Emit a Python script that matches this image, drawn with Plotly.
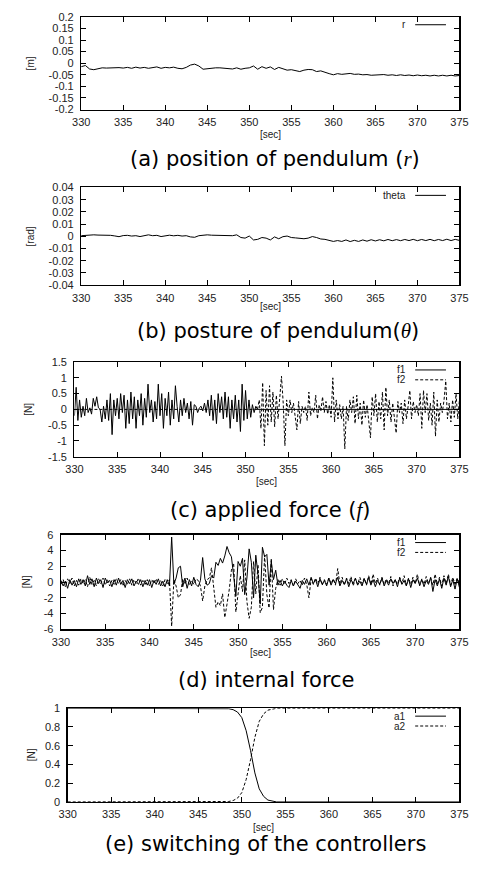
import numpy as np
import plotly.graph_objects as go

# ---------------- data ----------------
X_TICKS = [330, 335, 340, 345, 350, 355, 360, 365, 370, 375]

# (a) position r, sampled every 0.5 s from 330
R_T0, R_DT = 330.0, 0.5
R_VALS = [-0.015, -0.01, -0.025, -0.028, -0.024, -0.02, -0.021, -0.02, -0.022, -0.019,
          -0.021, -0.018, -0.022, -0.017, -0.021, -0.018, -0.022, -0.02, -0.016, -0.022,
          -0.018, -0.02, -0.017, -0.022, -0.024, -0.018, -0.008, -0.004, -0.012, -0.026,
          -0.024, -0.019, -0.02, -0.02, -0.021, -0.022, -0.025, -0.02, -0.026, -0.022,
          -0.02, -0.012, -0.026, -0.015, -0.022, -0.016, -0.027, -0.018, -0.025, -0.03,
          -0.028, -0.032, -0.036, -0.03, -0.027, -0.028, -0.036, -0.033, -0.04, -0.045,
          -0.05, -0.045, -0.048, -0.047, -0.044, -0.048, -0.047, -0.05, -0.049, -0.052,
          -0.05, -0.051, -0.049, -0.052, -0.05, -0.053, -0.05, -0.053, -0.051, -0.054,
          -0.051, -0.054, -0.052, -0.055, -0.052, -0.055, -0.052, -0.055, -0.052, -0.055,
          -0.053]

# (b) posture theta, every 0.5 s from 330
TH_T0, TH_DT = 330.0, 0.5
TH_VALS = [0.0005, 0.0008, 0.001, 0.0012, 0.001, 0.0011, 0.0013, 0.0008, 0.0003, -0.0003,
           0.0006, 0.0008, 0.0002, 0.0005, -0.0002, 0.0008, 0.0012, 0.0005, 0.0008, -0.0002,
           0.0005, 0.0009, 0.0004, 0.0008, 0.0002, 0.0005, -0.0005, -0.0008, 0.0005, 0.001,
           0.0012, 0.0009, 0.0008, 0.001, 0.0007, 0.0008, 0.0005, 0.0012, -0.001, -0.0015,
           0.0002, -0.003, -0.0025, -0.001, -0.0015, -0.003, -0.0005, -0.002, -0.0003, 0.0002,
           -0.001, -0.0013, -0.0018, -0.002, -0.0015, -0.0002, -0.001, -0.0022, -0.0025, -0.0032,
           -0.0042, -0.0035, -0.0042, -0.003, -0.0043, -0.0033, -0.0042, -0.003, -0.004, -0.0028,
           -0.0038, -0.0028, -0.0037, -0.0026, -0.0036, -0.0027, -0.0036, -0.0026, -0.0035, -0.0025,
           -0.0036, -0.0026, -0.0035, -0.0025, -0.0036, -0.0026, -0.0035, -0.0024, -0.0035, -0.0025,
           -0.0034]

# (c) applied force, every 0.2 s
F1C_T0, F1C_DT = 330.0, 0.2
F1C_VALS = [-0.2, 0.7, -0.35, 0.3, -0.25, 0.1, -0.2, 0.35, -0.1, 0.05,
            -0.15, 0.35, 0.1, 0.4, 0.05, 0.0, -0.4, 0.1, -0.3, 0.3,
            -0.35, 0.5, -0.8, 0.3, -0.2, 0.35, -0.3, 0.5, -0.1, 0.45,
            -0.6, 0.3, -0.45, 0.55, -0.3, 0.4, -0.6, 0.3, -0.2, 0.5,
            -0.5, 0.35, -0.25, 0.8, -0.1, 0.3, -0.4, 0.25, -0.3, 0.8,
            -0.2, 0.5, -0.6, 0.35, -0.2, 0.55, -0.5, 0.3, -0.3, 0.75,
            0.1, -0.4, 0.3, -0.2, 0.35, -0.1, 0.2, -0.3, 0.25, -0.5,
            0.15, 0.1, -0.1, 0.05, 0.1, -0.05, 0.2, -0.1, 0.3, -0.2,
            0.45, -0.35, 0.3, -0.45, 0.5, -0.1, 0.4, -0.3, 0.55, -0.25,
            0.4, -0.6, 0.3, -0.3, 0.45, -0.4, 0.3, -0.7, 0.8, -0.35,
            0.6, -0.3, 0.3, -0.25, 0.15, -0.1, 0.1, 0.0]
F1C_OFF_T = [351.4, 375.0]
F1C_OFF_V = [0.0, 0.0]

F2C_OFF_T = [330.0, 351.4]
F2C_OFF_V = [0.0, 0.0]
F2C_T0, F2C_DT = 351.4, 0.2
F2C_VALS = [0.0, 0.3, -0.6, 0.85, -1.15, 0.6, -0.5, 0.75, -0.4, 0.55,
            -0.55, 0.45, -0.3, 0.35, 1.05, 0.2, -1.15, 0.3, -0.2, 0.3,
            -0.1, 0.2, -0.2, -0.65, 0.25, -0.45, 0.1, -0.1, 0.1, -0.35,
            0.55, -0.2, 0.05, -0.1, 0.45, -0.3, 0.15, -0.05, 0.4, -0.1,
            0.25, -0.15, 0.15, -0.25, 1.0, -0.4, 0.3, -0.3, 0.15, -0.3,
            0.1, -1.25, 0.1, -0.35, 0.3, -0.1, 0.4, -0.45, 0.45, -0.3,
            0.2, -0.5, 0.3, -0.25, 0.15, -0.3, -0.9, 0.4, -0.2, 0.5,
            -0.4, 0.25, -0.3, 0.55, -0.65, 0.7, -0.2, 0.3, -0.4, 0.2,
            -0.2, -0.75, 0.25, -0.1, 0.2, -0.45, 0.3, -0.3, 0.1, 0.6,
            -0.3, 0.25, -0.1, 0.15, -0.2, 0.5, -0.6, 0.6, -0.1, 0.5,
            -0.35, 0.2, -0.5, 0.55, -0.85, 0.3, -0.4, 0.2, -0.1, 0.3,
            0.9, -0.3, 0.2, -0.4, 0.3, -0.25, 0.5, -0.3, 0.3]

# (d) internal force, every 0.25 s from 330
FD_T0, FD_DT = 330.0, 0.25
F1D_VALS = [0.2, -0.5, 0.1, -0.8, 0.3, -0.4, 0.2, -0.6, 0.4, -0.3,
            0.3, -0.5, 0.8, -0.3, 0.4, -0.6, 0.5, -0.2, 0.3, -0.7,
            0.5, -0.1, 0.2, -0.6, 0.3, -0.4, 0.5, -0.3, 0.2, -0.7,
            0.3, -0.2, 0.4, -0.5, 0.1, -0.3, 0.3, -0.6, 0.2, -0.4,
            0.3, -0.7, 0.2, -0.3, 0.4, -0.5, 0.1, -0.6, 0.3, -0.5,
            5.7, -0.3, 0.5, 1.8, 2.0, -0.6, 0.5, -0.8, 0.3, -0.5,
            0.6, -0.3, -0.6, 0.2, 3.1, 0.4, -0.4, -0.2, 0.8, 0.5,
            2.5, 2.1, 3.0, 2.4, 3.3, 4.5, 3.7, 3.2, 0.8, -1.8,
            2.6, 2.0, 3.0, -1.6, 0.5, 4.2, 2.5, -2.0, 3.4, 1.0,
            -2.8, 4.4, 3.2, 3.5, -0.4, 2.6, 0.3, 1.5, -0.4, 0.2,
            -0.5, 0.1, -0.4, -0.7, 0.2, -0.5, 0.1, -0.3, -0.8, 0.2,
            -0.3, 0.4, -0.4, 0.6, -0.2, 0.3, -0.6, 0.4, -0.3, 0.2,
            -0.5, 0.5, -0.4, 0.3, -0.2, 0.6, -0.5, 0.2, -0.3, 0.4,
            -0.6, 0.3, -0.2, 0.5, -0.4, 0.1, -0.5, 0.4, -0.3, 0.6,
            -0.4, 0.3, -0.6, 0.2, -0.3, 0.5, -0.5, 0.2, -0.4, 0.4,
            -0.2, 0.3, -0.6, 0.5, -0.3, 0.2, -0.5, 0.4, -0.7, 0.3,
            -0.2, 0.5, -0.4, 0.3, -0.6, 0.2, -0.3, 0.6, -1.2, 0.3,
            -0.5, 0.4, -0.8, 0.5, -0.4, 0.7, -0.6, 0.3, -0.9, 0.4,
            -0.7]
F2D_VALS = [-0.3, 0.3, -0.6, 0.4, -0.2, 0.5, -0.5, 0.2, -0.4, 0.4,
            -0.2, 0.3, -0.6, 0.6, -0.3, 0.2, -0.5, 0.4, -0.2, 0.5,
            -0.4, 0.3, -0.5, 0.2, -0.3, 0.4, -0.2, 0.3, -0.5, 0.2,
            -0.3, 0.4, -0.4, 0.3, -0.2, 0.5, -0.4, 0.2, -0.3, 0.3,
            -0.5, 0.3, -0.2, 0.4, -0.3, 0.2, -0.5, 0.3, -0.2, 0.3,
            -5.6, 0.3, -0.5, -2.0, -1.6, 0.4, -0.3, 0.5, -0.4, 0.2,
            -0.3, 0.4, 0.2, -0.5, -2.4, -0.5, 0.3, 0.5, 1.8, -0.8,
            -3.2, -2.5, -3.0, -1.5, -4.5, -2.8, -1.0, 1.5, 2.4, -3.8,
            -1.8, 0.8, -1.2, 2.8, -2.5, -4.6, -3.2, 2.6, -1.5, 2.2,
            -3.9, -3.2, 3.4, -1.6, -3.3, 3.0, -3.5, -0.8, 0.3, -0.4,
            0.4, -0.3, 0.5, -0.2, 0.3, -0.5, 0.4, -0.2, 0.2, -0.4,
            0.5, -0.3, -2.0, 0.4, -0.3, 0.5, -0.2, 0.6, -0.4, 0.3,
            -0.3, 0.5, -0.2, 0.4, -0.4, 1.7, -0.3, 0.6, -0.4, 0.5,
            -0.2, 0.7, -0.5, 0.4, -0.3, 0.6, -0.2, 0.5, -0.4, 0.8,
            -0.3, 1.0, -0.2, 0.5, -0.4, 0.6, -0.3, 0.4, -0.2, 0.7,
            -0.5, 0.3, -0.3, 0.6, -0.2, 0.8, -0.4, 0.5, -0.3, 0.6,
            -0.2, 1.0, -0.5, 0.4, -0.3, 0.7, -0.2, 0.5, -0.4, 1.0,
            -0.3, 0.6, -0.5, 0.8, -0.2, 1.0, -0.4, 0.6, -0.3, 0.5,
            -0.2]

# (e) switching weights
A_T = [330.0, 347.0, 348.0, 348.5, 349.0, 349.5, 350.0, 350.5, 351.0, 351.5,
       352.0, 352.5, 353.0, 353.5, 354.0, 375.0]
A1_VALS = [1.0, 1.0, 0.998, 0.995, 0.985, 0.96, 0.9, 0.76, 0.55, 0.31,
           0.14, 0.06, 0.02, 0.008, 0.0, 0.0]
A2_VALS = [0.0, 0.0, 0.002, 0.005, 0.015, 0.04, 0.1, 0.24, 0.45, 0.69,
           0.86, 0.94, 0.98, 0.992, 1.0, 1.0]

YT_A = [0.2, 0.15, 0.1, 0.05, 0, -0.05, -0.1, -0.15, -0.2]
YL_A = ["0.2", "0.15", "0.1", "0.05", "0", "-0.05", "-0.1", "-0.15", "-0.2"]
YT_B = [0.04, 0.03, 0.02, 0.01, 0, -0.01, -0.02, -0.03, -0.04]
YL_B = ["0.04", "0.03", "0.02", "0.01", "0", "-0.01", "-0.02", "-0.03", "-0.04"]
YT_C = [1.5, 1, 0.5, 0, -0.5, -1, -1.5]
YL_C = ["1.5", "1", "0.5", "0", "-0.5", "-1", "-1.5"]
YT_D = [6, 4, 2, 0, -2, -4, -6]
YL_D = ["6", "4", "2", "0", "-2", "-4", "-6"]
YT_E = [1, 0.8, 0.6, 0.4, 0.2, 0]
YL_E = ["1", "0.8", "0.6", "0.4", "0.2", "0"]

# ---------------- layout helpers ----------------
W, H = 480, 877
def px(x): return x / W
def py(y): return 1 - y / H

def times(t0, dt, vals):
    return t0 + dt * np.arange(len(vals))

TICK_FONT = dict(family="Liberation Sans, Arial, sans-serif", size=11, color="#222")
SMALL_FONT = dict(family="Liberation Sans, Arial, sans-serif", size=10, color="#222")
KEY_FONT = dict(family="Liberation Sans, Arial, sans-serif", size=10, color="#222")
CAP_FONT = dict(family="DejaVu Sans, sans-serif", size=21, color="#000")

# panel geometry in pixels: left, right, top, bottom
PANELS = [
    (75, 468, 11, 105),
    (75, 468, 184, 283),
    (68, 468, 361, 457),
    (54, 468, 536, 632),
    (61, 468, 712, 807),
]
YRANGES = [(-0.2, 0.2), (-0.04, 0.04), (-1.5, 1.5), (-6, 6), (0, 1)]
YTICKS = [(YT_A, YL_A), (YT_B, YL_B), (YT_C, YL_C), (YT_D, YL_D), (YT_E, YL_E)]

fig = go.Figure()
LINE = dict(color="black", width=1)
DASH = dict(color="black", width=1, dash="3px,2px")

def add(n, x, y, line):
    fig.add_trace(go.Scatter(x=x, y=y, mode="lines", line=line,
                             xaxis="x" if n == 1 else f"x{n}",
                             yaxis="y" if n == 1 else f"y{n}",
                             showlegend=False, hoverinfo="skip"))

add(1, times(R_T0, R_DT, R_VALS), R_VALS, LINE)
add(2, times(TH_T0, TH_DT, TH_VALS), TH_VALS, LINE)
add(3, F2C_OFF_T, F2C_OFF_V, DASH)
add(3, times(F2C_T0, F2C_DT, F2C_VALS), F2C_VALS, DASH)
add(3, times(F1C_T0, F1C_DT, F1C_VALS), F1C_VALS, LINE)
add(3, F1C_OFF_T, F1C_OFF_V, LINE)
add(4, times(FD_T0, FD_DT, F2D_VALS), F2D_VALS, DASH)
add(4, times(FD_T0, FD_DT, F1D_VALS), F1D_VALS, LINE)
add(5, A_T, A1_VALS, LINE)
add(5, A_T, A2_VALS, DASH)

layout = dict(width=W, height=H, autosize=False,
              margin=dict(l=0, r=0, t=0, b=0, pad=0),
              plot_bgcolor="white", paper_bgcolor="white",
              showlegend=False)

for i, ((l, r, t, b), yr, (tv, tl)) in enumerate(zip(PANELS, YRANGES, YTICKS)):
    n = i + 1
    xk = "xaxis" if n == 1 else f"xaxis{n}"
    yk = "yaxis" if n == 1 else f"yaxis{n}"
    ya = "y" if n == 1 else f"y{n}"
    xa = "x" if n == 1 else f"x{n}"
    layout[xk] = dict(domain=[px(l), px(r)], range=[330, 375], anchor=ya,
                      tickvals=X_TICKS, ticktext=[str(v) for v in X_TICKS],
                      ticks="inside", ticklen=5, tickwidth=1, tickcolor="black",
                      showline=True, linecolor="black", linewidth=1.3, mirror="allticks",
                      showgrid=False, zeroline=False, tickfont=TICK_FONT,
                      ticklabelstandoff=2, fixedrange=True)
    layout[yk] = dict(domain=[py(b), py(t)], range=list(yr), anchor=xa,
                      tickvals=tv, ticktext=tl,
                      ticks="inside", ticklen=5, tickwidth=1, tickcolor="black",
                      showline=True, linecolor="black", linewidth=1.3, mirror="allticks",
                      showgrid=False, zeroline=False, tickfont=TICK_FONT,
                      ticklabelstandoff=4, fixedrange=True)

fig.update_layout(**layout)

# axis titles, captions
YTITLES = ["[m]", "[rad]", "[N]", "[N]", "[N]"]
YTITLE_X = [22, 22, 20, 18, 23]
SEC_Y = [130, 305, 482, 655, 833]
CAPTIONS = [
    "(a) position of pendulum (<span style='font-family:Liberation Serif'><i>r</i></span>)",
    "(b) posture of pendulum(<span style='font-family:Liberation Serif'><i>θ</i></span>)",
    "(c) applied force (<span style='font-family:Liberation Serif'><i>f</i></span>)",
    "(d) internal force",
    "(e) switching of the controllers",
]
CAP_Y = [155, 330, 511, 683, 850]
CAP_X = [276, 279, 272, 268, 266]

ann = []
for (l, r, t, b), yt, yx, sy, cap, cy, cx in zip(PANELS, YTITLES, YTITLE_X, SEC_Y, CAPTIONS, CAP_Y, CAP_X):
    ann.append(dict(text=yt, x=px(yx), y=py((t + b) / 2), xref="paper", yref="paper",
                    textangle=-90, showarrow=False, font=SMALL_FONT,
                    xanchor="center", yanchor="middle"))
    ann.append(dict(text="[sec]", x=px((l + r) / 2), y=py(sy), xref="paper", yref="paper",
                    showarrow=False, font=SMALL_FONT, xanchor="center", yanchor="middle"))
    ann.append(dict(text=cap, x=px(cx), y=py(cy), xref="paper", yref="paper",
                    showarrow=False, font=CAP_FONT, xanchor="center", yanchor="middle"))

# in-plot keys (gnuplot style: label then sample)
KEYS = [
    [("r", False)],
    [("theta", False)],
    [("f1", False), ("f2", True)],
    [("f1", False), ("f2", True)],
    [("a1", False), ("a2", True)],
]
shapes = []
for (l, r, t, b), keys in zip(PANELS, KEYS):
    for j, (lab, dashed) in enumerate(keys):
        yk = t + 8 + 10 * j
        ann.append(dict(text=lab, x=px(r - 54), y=py(yk), xref="paper", yref="paper",
                        showarrow=False, font=KEY_FONT, xanchor="right", yanchor="middle",
                        borderpad=0))
        shapes.append(dict(type="line", xref="paper", yref="paper",
                           x0=px(r - 46), x1=px(r - 14), y0=py(yk), y1=py(yk),
                           line=dict(color="black", width=1,
                                     dash="3px,2px" if dashed else "solid")))

fig.update_layout(annotations=ann, shapes=shapes)
fig.write_html("out.html", config={"displayModeBar": False, "staticPlot": True},
               post_script="document.body.style.margin='0';document.body.style.overflow='hidden';")
